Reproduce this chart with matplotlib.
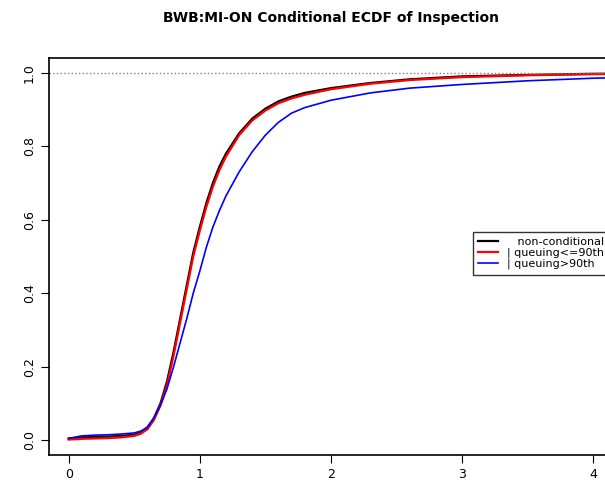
import matplotlib
matplotlib.use("Agg")
import matplotlib.pyplot as plt

x_all = [0, 0.1, 0.2, 0.3, 0.4, 0.5, 0.55, 0.6, 0.65, 0.7, 0.75, 0.8, 0.85, 0.9, 0.95, 1.0, 1.05, 1.1, 1.15, 1.2, 1.3, 1.4, 1.5, 1.6, 1.7, 1.8, 2.0, 2.3, 2.6, 3.0, 3.5, 4.0, 4.4]
y_black = [0.005, 0.008, 0.009, 0.01, 0.012, 0.015, 0.022, 0.035, 0.06, 0.10, 0.16, 0.24, 0.33, 0.42, 0.51, 0.58, 0.645, 0.70, 0.745, 0.78, 0.835, 0.875, 0.902, 0.922, 0.935, 0.945, 0.958, 0.972, 0.982, 0.99, 0.994, 0.997, 0.998]
y_red = [0.002, 0.004, 0.005, 0.006, 0.008, 0.012, 0.018, 0.03, 0.055, 0.095, 0.15, 0.23, 0.32, 0.41, 0.50, 0.57, 0.635, 0.69, 0.735, 0.772, 0.83, 0.87, 0.897, 0.917, 0.93, 0.94, 0.955, 0.97, 0.98, 0.988, 0.993, 0.996, 0.997]
y_blue = [0.005, 0.012, 0.014, 0.015, 0.017, 0.02, 0.025, 0.035, 0.06, 0.095, 0.14, 0.2, 0.265, 0.33, 0.40, 0.46, 0.525, 0.58, 0.625, 0.665, 0.73, 0.785, 0.83, 0.865, 0.89, 0.905, 0.925, 0.945, 0.958, 0.968, 0.978, 0.985, 0.988]
labels = ["   non-conditional", "| queuing<=90th", "| queuing>90th"]

fig = plt.figure(figsize=(6.05, 4.93), dpi=100)
ax = fig.add_axes([49/605, 38/493, 590/605, 397/493])
ax.plot(x_all, y_black, color="black", lw=1.6, label=labels[0])
ax.plot(x_all, y_red, color="red", lw=1.6, label=labels[1])
ax.plot(x_all, y_blue, color="blue", lw=1.2, label=labels[2])
ax.axhline(1.0, color="gray", ls=":", lw=1)
ax.set_xlim(-0.15, 4.35)
ax.set_ylim(-0.04, 1.04)
ax.set_xticks([0, 1, 2, 3, 4])
ax.set_yticks([0, 0.2, 0.4, 0.6, 0.8, 1.0])
ax.set_yticklabels(["0.0", "0.2", "0.4", "0.6", "0.8", "1.0"], rotation=90, va="center")
ax.tick_params(labelsize=9, length=6)
for s in ax.spines.values():
    s.set_linewidth(1.2)
fig.text(331/605, 1 - 18/493, "BWB:MI-ON Conditional ECDF of Inspection", ha="center", va="center", fontsize=10, fontweight="bold")
leg = ax.legend(loc="upper left", bbox_to_anchor=((467-49)/590, (455-226)/397), fontsize=8, frameon=True, fancybox=False, edgecolor="black", handlelength=1.8, borderpad=0.5, labelspacing=0.05)
leg.get_frame().set_linewidth(1)
fig.savefig("out.png", dpi=100)
